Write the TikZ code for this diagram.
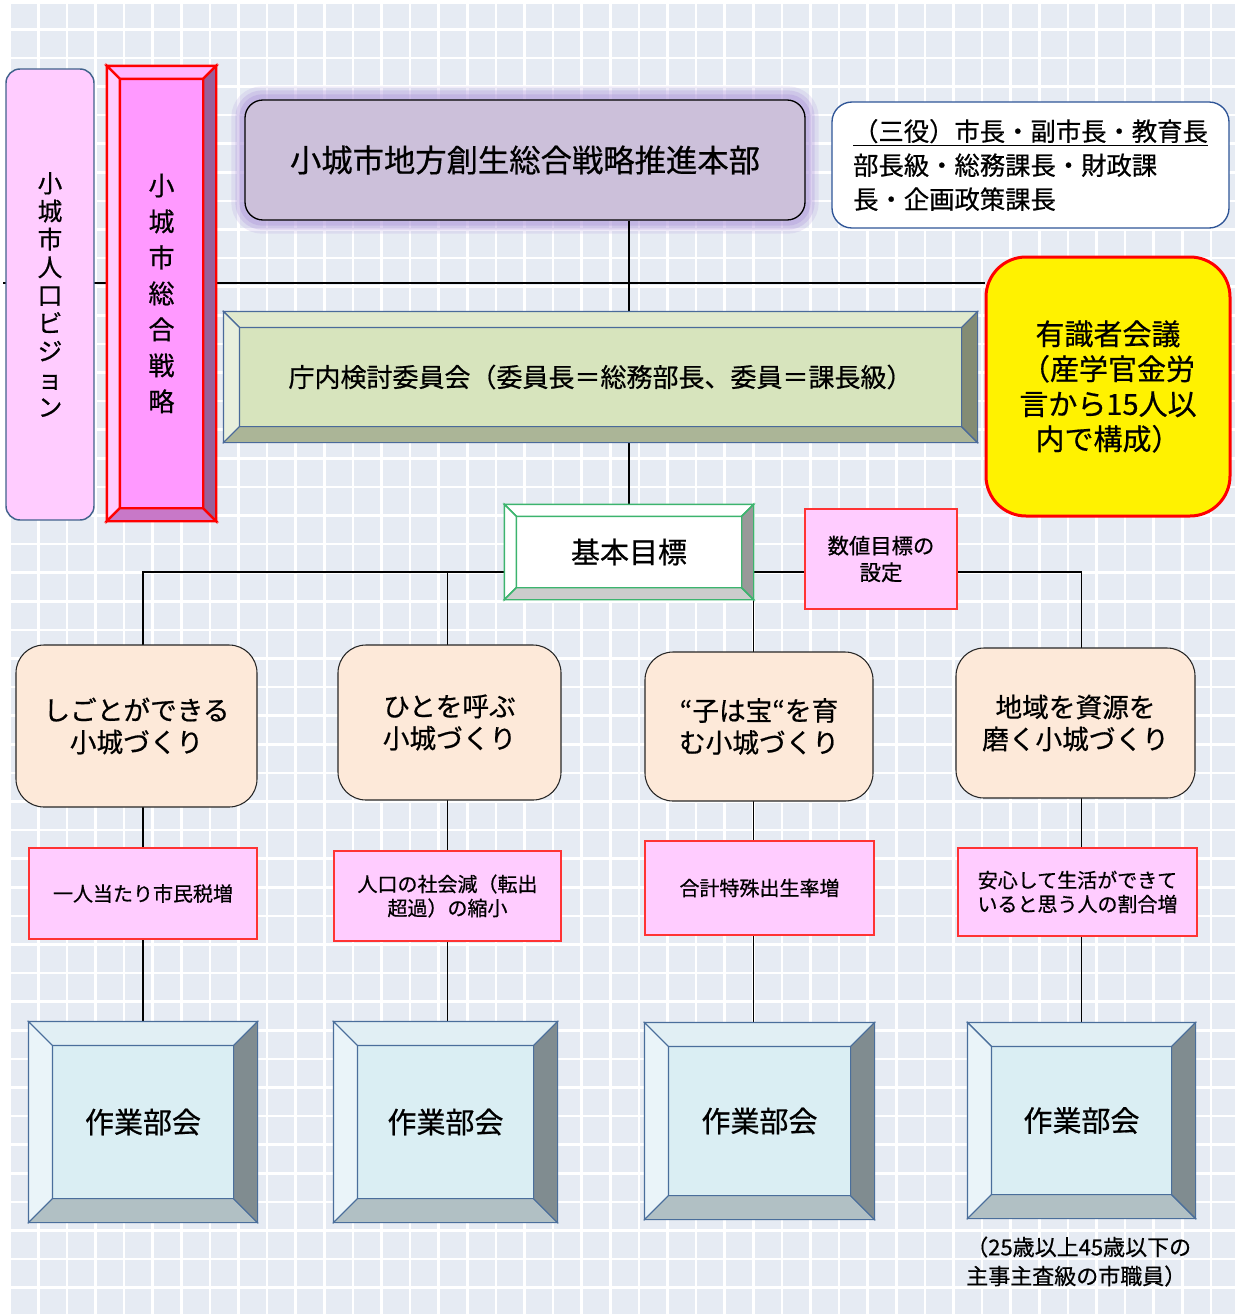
\documentclass[tikz,border=0pt]{standalone}
\usepackage{fontspec}
\setmainfont{Noto Sans CJK JP}[FakeBold=0.6]
\usetikzlibrary{calc}
\pgfdeclarelayer{back}
\pgfdeclarelayer{wires}
\pgfsetlayers{back,wires,main}

\definecolor{gridcell}{RGB}{230,235,243}
\definecolor{visionpink}{RGB}{255,204,255}
\definecolor{visionline}{RGB}{65,98,140}
\definecolor{stratface}{RGB}{255,153,255}
\definecolor{strattop}{RGB}{255,180,255}
\definecolor{stratleft}{RGB}{255,204,255}
\definecolor{stratbot}{RGB}{200,120,200}
\definecolor{stratright}{RGB}{153,95,153}
\definecolor{hqfill}{RGB}{204,192,218}
\definecolor{glowc}{RGB}{178,155,220}
\definecolor{memberline}{RGB}{47,85,151}
\definecolor{cmface}{RGB}{215,228,189}
\definecolor{cmtop}{RGB}{224,233,205}
\definecolor{cmleft}{RGB}{232,239,221}
\definecolor{cmbot}{RGB}{171,181,151}
\definecolor{cmright}{RGB}{132,140,116}
\definecolor{cmline}{RGB}{74,106,154}
\definecolor{goalline}{RGB}{60,180,110}
\definecolor{goalbot}{RGB}{204,204,204}
\definecolor{goalright}{RGB}{153,153,153}
\definecolor{pinkbox}{RGB}{255,204,255}
\definecolor{pinkline}{RGB}{255,51,51}
\definecolor{peach}{RGB}{253,233,217}
\definecolor{wkface}{RGB}{218,238,243}
\definecolor{wktop}{RGB}{225,239,244}
\definecolor{wkleft}{RGB}{234,244,249}
\definecolor{wkbot}{RGB}{177,192,196}
\definecolor{wkright}{RGB}{128,140,144}
\definecolor{wkline}{RGB}{74,110,155}

% bevelled frame round a node: name, depth, top, left, bottom, right, line
\newcommand{\bevelbox}[7]{%
  \filldraw[fill=#3, draw=#7] (#1.north west) -- (#1.north east) -- ([shift={(-#2,#2)}]#1.north east) -- ([shift={(#2,#2)}]#1.north west) -- cycle;
  \filldraw[fill=#4, draw=#7] (#1.north west) -- ([shift={(#2,#2)}]#1.north west) -- ([shift={(#2,-#2)}]#1.south west) -- (#1.south west) -- cycle;
  \filldraw[fill=#5, draw=#7] (#1.south west) -- ([shift={(#2,-#2)}]#1.south west) -- ([shift={(-#2,-#2)}]#1.south east) -- (#1.south east) -- cycle;
  \filldraw[fill=#6, draw=#7] (#1.south east) -- ([shift={(-#2,-#2)}]#1.south east) -- ([shift={(-#2,#2)}]#1.north east) -- (#1.north east) -- cycle;
}

\begin{document}
\begin{tikzpicture}[x=0.75pt, y=-0.75pt,
    wh/.style 2 args={minimum width=#1*0.75pt, minimum height=#2*0.75pt, inner sep=0pt},
    wire/.style={line width=1.1pt, black},
    gridline/.style={white, line width=1.9pt},
    aim/.style={rounded corners=21pt, fill=peach, draw=black!85, line width=0.8pt, align=center, font=\fontsize{20}{24}\selectfont},
    kpi/.style={fill=pinkbox, draw=pinkline, line width=0.8pt, align=center, font=\fontsize{15}{18}\selectfont},
    work/.style={fill=wkface, draw=wkline, line width=0.8pt, font=\fontsize{21.75}{26}\selectfont}]

    \useasboundingbox (0,0) rectangle (1235,1314);
    \begin{pgfonlayer}{back}
        \fill[white] (0,0) rectangle (1235,1314);
        \fill[gridcell] (11,4) rectangle (1235,1314);
        \foreach \i in {1,...,42}
        \draw[gridline] (9.7+28.6*\i,4) -- (9.7+28.6*\i,1314);
        \foreach \j in {1,...,45}
        \draw[gridline] (11,0.7+28.6*\j) -- (1235,0.7+28.6*\j);
    \end{pgfonlayer}

    \coordinate (rule) at (3,283);
    \coordinate (bar) at (0,572);

    \node[wh={88}{451}, rounded corners=10.5pt, fill=visionpink, draw=visionline, line width=1.1pt, align=center, font=\fontsize{18.5}{21}\selectfont] (vision) at (50,294.5) {小\\城\\市\\人\\口\\ビ\\ジ\\ョ\\ン};

    \node[wh={107}{453}, fill=stratface, draw=red, line width=1.8pt, align=center, font=\fontsize{19.5}{27}\selectfont] (strategy) at (161.5,293.5) {小\\城\\市\\総\\合\\戦\\略};
    \bevelbox{strategy}{13}{strattop}{stratleft}{stratbot}{stratright}{red, line width=1.8pt}

    \node[wh={560}{120}, rounded corners=13.5pt, fill=hqfill, draw=black, line width=1pt, font=\fontsize{23.5}{28}\selectfont] (hq) at (525,160) {小城市地方創生総合戦略推進本部};

    \node[wh={397}{126}, rounded corners=15pt, fill=white, draw=memberline, line width=1pt, align=left, font=\fontsize{19}{25.5}\selectfont] (members) at (1030.5,165) {\underline{（三役）市長・副市長・教育長}\\部長級・総務課長・財政課\\長・企画政策課長};

    \node[wh={244}{259}, rounded corners=30pt, fill=yellow, draw=red, line width=2.25pt, align=center, font=\fontsize{21.75}{26.25}\selectfont] (expert) at (1108,386.5) {有識者会議\\（産学官金労\\言から15人以\\内で構成）};

    \node[wh={753}{130}, fill=cmface, draw=cmline, line width=0.8pt, font=\fontsize{19.5}{24}\selectfont] (committee) at (600.5,377) {庁内検討委員会（委員長＝総務部長、委員＝課長級）};
    \bevelbox{committee}{16}{cmtop}{cmleft}{cmbot}{cmright}{cmline, line width=0.8pt}

    \node[wh={248}{94}, fill=white, draw=goalline, line width=1.1pt, font=\fontsize{21.75}{26}\selectfont] (goal) at (629,552) {基本目標};
    \bevelbox{goal}{12}{white}{white}{goalbot}{goalright}{goalline, line width=1.1pt}

    \node[kpi, wh={152}{100}, font=\fontsize{16}{20}\selectfont] (target) at (881,559) {数値目標の\\設定};

    \node[aim, wh={241}{162}] (a1) at (136.5,726) {しごとができる\\小城づくり};
    \node[aim, wh={223}{155}] (a2) at (449.5,722.5) {ひとを呼ぶ\\小城づくり};
    \node[aim, wh={228}{149}] (a3) at (759,726.5) {“子は宝“を育\\む小城づくり};
    \node[aim, wh={239}{150}] (a4) at (1075.5,723) {地域を資源を\\磨く小城づくり};

    \node[kpi, wh={228}{91}] (b1) at (143,893.5) {一人当たり市民税増};
    \node[kpi, wh={227}{90}] (b2) at (447.5,896) {人口の社会減（転出\\超過）の縮小};
    \node[kpi, wh={229}{94}] (b3) at (759.5,888) {合計特殊出生率増};
    \node[kpi, wh={239}{88}] (b4) at (1077.5,892) {安心して生活ができて\\いると思う人の割合増};

    \node[work, wh={228}{200}] (c1) at (143,1122) {作業部会};
    \node[work, wh={223}{200}] (c2) at (445.5,1122) {作業部会};
    \node[work, wh={229}{196}] (c3) at (759.5,1121) {作業部会};
    \node[work, wh={227}{195}] (c4) at (1081.5,1120.5) {作業部会};
    \foreach \n in {c1,c2,c3,c4}
    {\bevelbox{\n}{24}{wktop}{wkleft}{wkbot}{wkright}{wkline, line width=0.8pt}}

    \node[anchor=west, align=left, inner sep=0pt, font=\fontsize{16.5}{21.75}\selectfont] (note) at (966,1261.5) {（25歳以上45歳以下の\\主事主査級の市職員）};

    \begin{pgfonlayer}{back}
        \foreach \w/\o in {26/0.2,18/0.3,10/0.4}
        \draw[glowc, line width=\w*0.75pt, opacity=\o, rounded corners=13.5pt] (hq.north west) rectangle (hq.south east);
    \end{pgfonlayer}

    \begin{pgfonlayer}{wires}
        \draw[wire] (rule) -- (rule -| expert.west);
        \draw[wire] (hq.south -| goal.north) -- (goal.north);
        \draw[wire] (goal.west |- bar) -| (c1.north);
        \draw[wire] (bar -| b2.north) -- (c2.north -| b2.north);
        \draw[wire] (goal.south east) -- (goal.south east |- c3.north);
        \draw[wire] (goal.east |- bar) -- (target.west |- bar);
        \draw[wire] (target.east |- bar) -| (c4.north);
    \end{pgfonlayer}
\end{tikzpicture}
\end{document}
